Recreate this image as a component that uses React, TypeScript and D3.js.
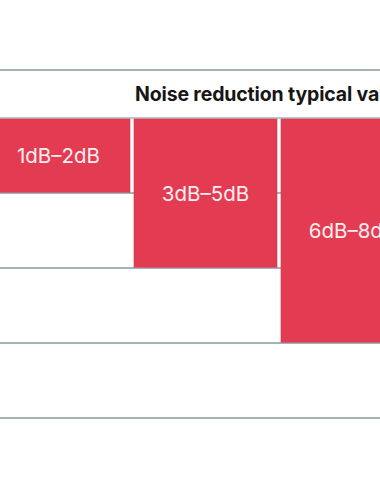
import React from "react";
import * as d3 from "d3";

const title = "Noise reduction typical values";
const categories = ["1dB–2dB", "3dB–5dB", "6dB–8dB"];
const rowSpans = [1, 2, 3];
const rowCount = 4;

const W = 380;
const H = 500;

export default function App() {
  const x = d3
    .scaleBand<string>()
    .domain(categories)
    .range([-13, 424])
    .paddingInner(4 / 147)
    .paddingOuter(0);
  const y = d3.scaleLinear().domain([0, rowCount]).range([118, 418]);
  const rows = d3.range(1, rowCount + 1);
  const red = "#e33c52";
  const grid = "#a3b3b8";

  return (
    <svg
      width={W}
      height={H}
      style={{ position: "absolute", left: 0, top: 0, background: "#fff" }}
    >
      <line x1={0} x2={W} y1={70} y2={70} stroke={grid} strokeWidth={2} />
      <text
        x={135}
        y={101}
        fontFamily="Inter, 'DejaVu Sans', sans-serif"
        fontWeight={700}
        fontSize={19.5}
        letterSpacing={-0.15}
        fill="#161616"
      >
        {title}
      </text>
      <line x1={0} x2={W} y1={y(0)} y2={y(0)} stroke={grid} strokeWidth={1.6} />
      {rows.map((r) => (
        <line
          key={r}
          x1={0}
          x2={W}
          y1={y(r)}
          y2={y(r)}
          stroke={grid}
          strokeWidth={2}
        />
      ))}
      {categories.map((c, i) => {
        const x0 = x(c) as number;
        const y0 = y(0) + 1;
        const y1 = y(rowSpans[i]) - 0.8;
        return (
          <g key={c}>
            <rect
              x={x0}
              y={y0}
              width={x.bandwidth()}
              height={y1 - y0}
              fill={red}
              stroke="#d3344a"
              strokeWidth={0.6}
            />
            <text
              x={x0 + x.bandwidth() / 2}
              y={(y(0) + y(rowSpans[i])) / 2 + 2}
              textAnchor="middle"
              dominantBaseline="middle"
              fontFamily="Inter, 'DejaVu Sans', sans-serif"
              fontSize={20.5}
              letterSpacing={0}
              fill="#fdeef0"
            >
              {c}
            </text>
          </g>
        );
      })}
    </svg>
  );
}
